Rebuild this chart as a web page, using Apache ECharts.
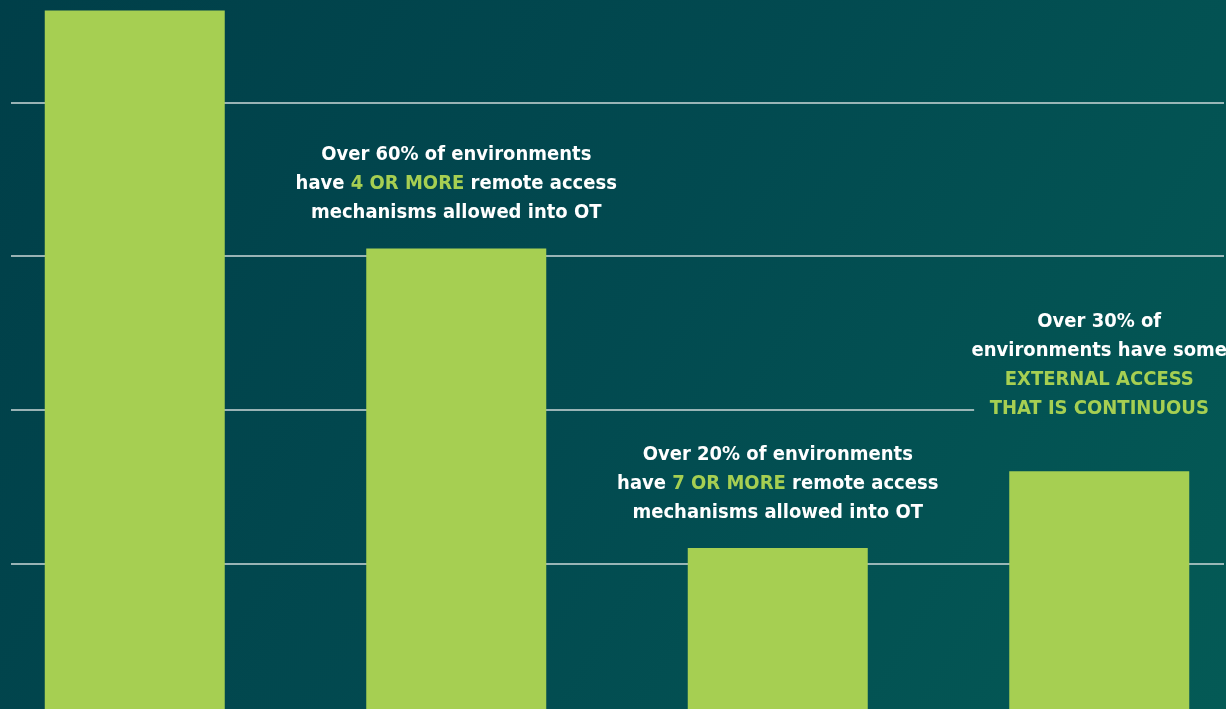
<!DOCTYPE html>
<html>
<head>
<meta charset="utf-8">
<script src="https://cdn.jsdelivr.net/npm/echarts@6/dist/echarts.min.js"></script>
<style>
  html, body { margin: 0; padding: 0; width: 1226px; height: 709px; overflow: hidden; background: #02484f; }
  /* the picture is a crop: baseline sits just below the bottom edge */
  #chart { position: absolute; left: -26px; top: -51px; width: 1286px; height: 768px; }
</style>
</head>
<body>
<div id="chart"></div>
<script>
// data (share of environments, %)
const categories = ['All environments', '4+ mechanisms', '7+ mechanisms', 'Continuous external access']
const values = [92, 61, 22, 32]
const ruleTicks = [20, 40, 60, 80]

// annotation text above each bar: [white, green, white] pieces per line
const notes = [
  null,
  [['Over 60% of environments'], ['have ', '4 OR MORE', ' remote access'], ['mechanisms allowed into OT']],
  [['Over 20% of environments'], ['have ', '7 OR MORE', ' remote access'], ['mechanisms allowed into OT']],
  [['Over 30% of'], ['environments have some'], ['', 'EXTERNAL ACCESS'], ['', 'THAT IS CONTINUOUS']]
]

const green = '#a6cf52'
const font = '"DejaVu Sans Condensed", "DejaVu Sans", sans-serif'

function noteText(lines) {
  return lines.map(parts => parts.map((p, i) => {
    if (!p) return ''
    return (i % 2 === 1 ? '{g|' : '{w|') + p + '}'
  }).join('')).join('\n')
}

// the 40% rule stops where the last note begins
function ruleEnd(t) {
  return t === 40 ? 0.794 : 1
}

let myChart = echarts.init(document.getElementById('chart'))

myChart.setOption({
  backgroundColor: {
    type: 'linear', x: 0, y: 0, x2: 1, y2: 1,
    colorStops: [
      { offset: 0, color: '#003e48' },
      { offset: 0.5, color: '#024a50' },
      { offset: 1, color: '#045b56' }
    ]
  },
  animation: false,
  grid: [
    // grid 0 only carries the horizontal rules
    { left: 37, right: 36, top: 0, bottom: 0 },
    // grid 1 carries the bars
    { left: 0, right: 0, top: 0, bottom: 0 }
  ],
  xAxis: [
    { gridIndex: 0, type: 'value', min: 0, max: 1, show: false, splitLine: { show: false } },
    { gridIndex: 1, type: 'category', data: categories, show: false }
  ],
  yAxis: [
    { gridIndex: 0, type: 'value', min: 0, max: 100, interval: 20, show: false, splitLine: { show: false } },
    { gridIndex: 1, type: 'value', min: 0, max: 100, interval: 20, show: false, splitLine: { show: false } }
  ],
  series: [
    {
      type: 'line',
      xAxisIndex: 0,
      yAxisIndex: 0,
      data: [],
      z: 1,
      markLine: {
        silent: true,
        symbol: 'none',
        z: 1,
        label: { show: false },
        lineStyle: { color: '#cdd8d8', width: 1.5, type: 'solid' },
        data: ruleTicks.map(t => [{ coord: [0, t] }, { coord: [ruleEnd(t), t] }])
      }
    },
    {
      type: 'bar',
      xAxisIndex: 1,
      yAxisIndex: 1,
      barWidth: 180,
      z: 3,
      itemStyle: { color: green },
      data: values.map((v, i) => {
        let d = { value: v }
        if (notes[i]) {
          d.label = {
            show: true,
            position: 'top',
            distance: i === 3 ? 48 : 21,
            align: 'center',
            lineHeight: 29,
            formatter: noteText(notes[i]),
            rich: {
              w: { color: '#ffffff', fontWeight: 'bold', fontSize: 20, fontFamily: font, lineHeight: 29 },
              g: { color: green, fontWeight: 'bold', fontSize: 20, fontFamily: font, lineHeight: 29 }
            }
          }
        }
        return d
      })
    }
  ]
})
</script>
</body>
</html>
